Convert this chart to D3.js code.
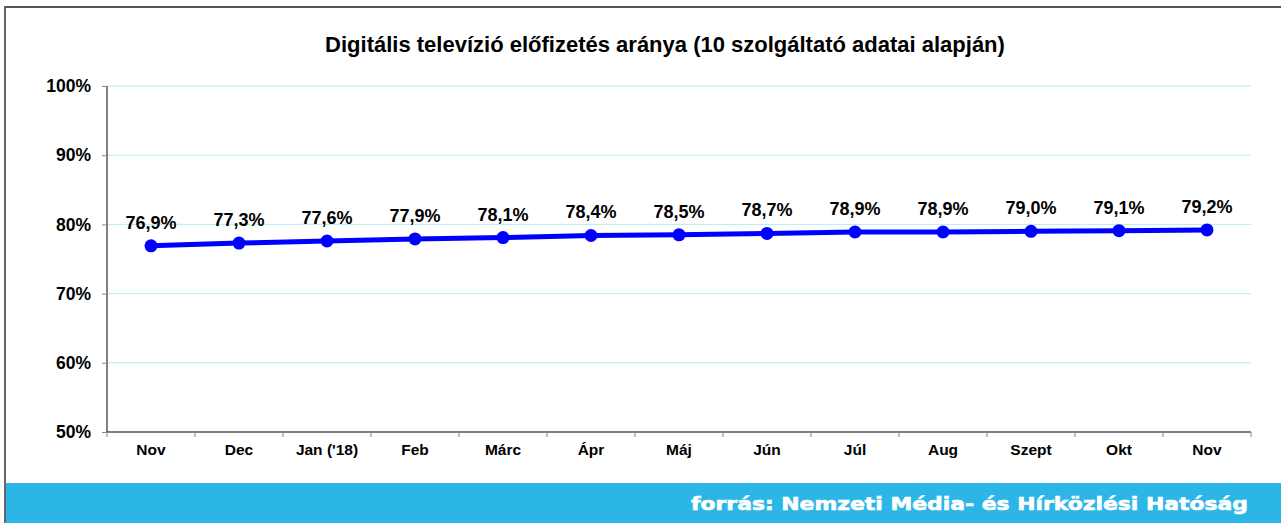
<!DOCTYPE html>
<html>
<head>
<meta charset="utf-8">
<script src="https://cdn.jsdelivr.net/npm/d3@7"></script>
<style>
  body { margin: 0; background: #fff; }
  text { font-family: "Liberation Sans", Arial, sans-serif; }
</style>
</head>
<body>
<div id="chart"></div>
<script>
// Chart data
const months = ["Nov", "Dec", "Jan ('18)", "Feb", "Márc", "Ápr", "Máj", "Jún", "Júl", "Aug", "Szept", "Okt", "Nov"]
const shares = [76.9, 77.3, 77.6, 77.9, 78.1, 78.4, 78.5, 78.7, 78.9, 78.9, 79.0, 79.1, 79.2]
const yTicks = [50, 60, 70, 80, 90, 100]
const title = "Digitális televízió előfizetés aránya (10 szolgáltató adatai alapján)"
const source = "forrás: Nemzeti Média- és Hírközlési Hatóság"

const W = 1281, H = 523
const plot = { left: 107, right: 1251, top: 86, bottom: 432 }

const svg = d3.select("#chart").append("svg")
    .attr("width", W)
    .attr("height", H)

// frame
svg.append("rect").attr("x", 0).attr("y", 0).attr("width", W).attr("height", H).attr("fill", "#fff")
svg.append("line").attr("x1", 5).attr("x2", W).attr("y1", 7).attr("y2", 7)
    .attr("stroke", "#555").attr("stroke-width", 2)
svg.append("line").attr("x1", 5).attr("x2", 5).attr("y1", 6).attr("y2", H)
    .attr("stroke", "#666").attr("stroke-width", 2)

// footer band
svg.append("rect").attr("x", 6).attr("y", 483).attr("width", W - 6).attr("height", H - 483)
    .attr("fill", "#2cb6e8")
svg.append("text")
    .attr("x", 1248).attr("y", 510)
    .attr("text-anchor", "end")
    .attr("textLength", 557)
    .attr("lengthAdjust", "spacingAndGlyphs")
    .style("font-family", "'DejaVu Sans', Verdana, sans-serif")
    .style("font-weight", "bold")
    .style("font-size", "17px")
    .style("stroke", "#fff")
    .style("stroke-width", 0.6)
    .attr("fill", "#fff")
    .text(source)

// title
svg.append("text")
    .attr("x", 665).attr("y", 52)
    .attr("text-anchor", "middle")
    .style("font-weight", "bold")
    .style("font-size", "22px")
    .attr("fill", "#000")
    .text(title)

// scales
const x = d3.scaleBand()
    .domain(d3.range(months.length))
    .range([plot.left, plot.right])

const y = d3.scaleLinear()
    .domain([50, 100])
    .range([plot.bottom, plot.top])

// gridlines
svg.append("g")
    .selectAll("line")
    .data(yTicks.filter(d => d > 50))
    .join("line")
    .attr("x1", plot.left).attr("x2", plot.right)
    .attr("y1", d => y(d)).attr("y2", d => y(d))
    .attr("stroke", "#b3ecf4")
    .attr("stroke-width", 1)

// y axis
const yAxis = svg.append("g")
    .attr("transform", `translate(${plot.left},0)`)
    .call(d3.axisLeft(y).tickValues(yTicks).tickSize(5).tickPadding(11).tickFormat(d => d + "%"))
yAxis.select(".domain").attr("stroke", "#000").attr("d", `M0,${plot.top}V${plot.bottom}`)
yAxis.selectAll(".tick line").attr("stroke", "#888")
yAxis.selectAll(".tick text")
    .style("font-family", "'Liberation Sans', Arial, sans-serif")
    .style("font-weight", "bold")
    .style("font-size", "17.5px")
    .attr("fill", "#000")

// x axis
const xAxis = svg.append("g")
    .attr("transform", `translate(0,${plot.bottom})`)
    .call(d3.axisBottom(x).tickSize(0).tickPadding(12).tickFormat(i => months[i]))
xAxis.select(".domain").attr("stroke", "#000").attr("d", `M${plot.left},0H${plot.right}`)
xAxis.selectAll(".tick text")
    .style("font-family", "'Liberation Sans', Arial, sans-serif")
    .style("font-weight", "bold")
    .style("font-size", "15.5px")
    .attr("fill", "#000")

// category boundary ticks
xAxis.append("g")
    .selectAll("line")
    .data(d3.range(months.length + 1))
    .join("line")
    .attr("x1", i => plot.left + i * x.step())
    .attr("x2", i => plot.left + i * x.step())
    .attr("y1", 0).attr("y2", 5)
    .attr("stroke", "#888")

// line
const cx = i => x(i) + x.bandwidth() / 2
const line = d3.line()
    .x((d, i) => cx(i))
    .y(d => y(d))

svg.append("path")
    .datum(shares)
    .attr("d", line)
    .attr("fill", "none")
    .attr("stroke", "#0000ff")
    .attr("stroke-width", 5)

svg.append("g")
    .selectAll("circle")
    .data(shares)
    .join("circle")
    .attr("cx", (d, i) => cx(i))
    .attr("cy", d => y(d))
    .attr("r", 6.5)
    .attr("fill", "#0000ff")

// value labels
svg.append("g")
    .selectAll("text")
    .data(shares)
    .join("text")
    .attr("x", (d, i) => cx(i))
    .attr("y", d => y(d) - 17)
    .attr("text-anchor", "middle")
    .style("font-weight", "bold")
    .style("font-size", "18px")
    .attr("fill", "#000")
    .text(d => d.toFixed(1).replace(".", ",") + "%")
</script>
</body>
</html>
